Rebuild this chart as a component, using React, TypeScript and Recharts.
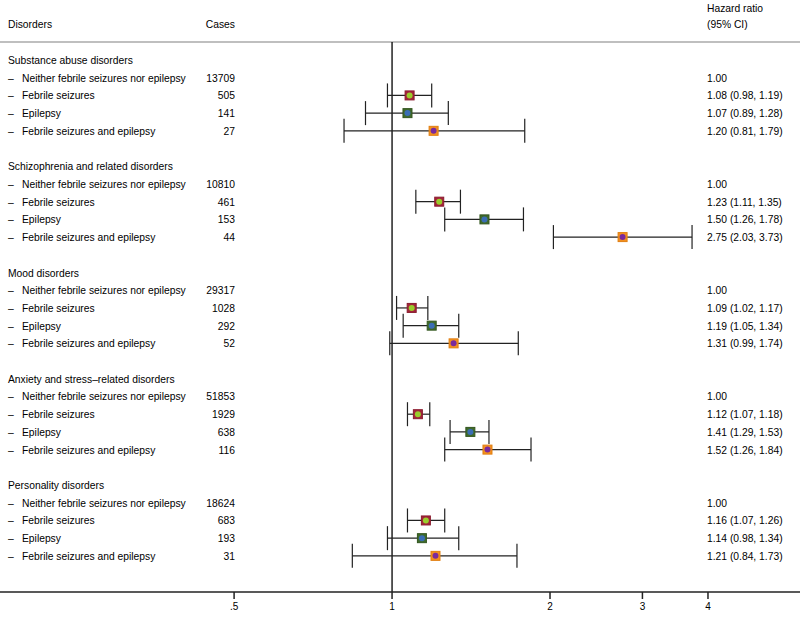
import {
  ErrorBar,
  ReferenceLine,
  Scatter,
  ScatterChart,
  XAxis,
  YAxis,
} from "recharts";

const groups = [
  "Substance abuse disorders",
  "Schizophrenia and related disorders",
  "Mood disorders",
  "Anxiety and stress\u2013related disorders",
  "Personality disorders",
];

const exposures = [
  "Neither febrile seizures nor epilepsy",
  "Febrile seizures",
  "Epilepsy",
  "Febrile seizures and epilepsy",
];

// per group, per exposure
const cases = [
  [13709, 505, 141, 27],
  [10810, 461, 153, 44],
  [29317, 1028, 292, 52],
  [51853, 1929, 638, 116],
  [18624, 683, 193, 31],
];

const hr = [
  [1.0, 1.08, 1.07, 1.2],
  [1.0, 1.23, 1.5, 2.75],
  [1.0, 1.09, 1.19, 1.31],
  [1.0, 1.12, 1.41, 1.52],
  [1.0, 1.16, 1.14, 1.21],
];

const lower = [
  [null, 0.98, 0.89, 0.81],
  [null, 1.11, 1.26, 2.03],
  [null, 1.02, 1.05, 0.99],
  [null, 1.07, 1.29, 1.26],
  [null, 1.07, 0.98, 0.84],
];

const upper = [
  [null, 1.19, 1.28, 1.79],
  [null, 1.35, 1.78, 3.73],
  [null, 1.17, 1.34, 1.74],
  [null, 1.18, 1.53, 1.84],
  [null, 1.26, 1.34, 1.73],
];

const xTicks = [0.5, 1, 2, 3, 4];

const markerStyles = [
  null,
  { square: "#a3243a", edge: "#8a1c2e", dot: "#9acd2c" },
  { square: "#3f6a2c", edge: "#33561f", dot: "#3a6db4" },
  { square: "#f3901f", edge: "#e07f12", dot: "#7a2a9c" },
];

type Row = {
  kind: "title" | "item";
  text: string;
  cases?: number;
  ci?: string;
};

const rows: Row[] = [];
const seriesData: { hr: number; row: number; err: number[] }[][] = [[], [], [], []];

groups.forEach((g, gi) => {
  rows.push({ kind: "title", text: g });
  exposures.forEach((e, ei) => {
    const h = hr[gi][ei];
    const lo = lower[gi][ei];
    const hi = upper[gi][ei];
    rows.push({
      kind: "item",
      text: e,
      cases: cases[gi][ei],
      ci:
        lo == null
          ? h.toFixed(2)
          : `${h.toFixed(2)} (${lo.toFixed(2)}, ${hi!.toFixed(2)})`,
    });
    if (lo != null && hi != null) {
      seriesData[ei].push({ hr: h, row: rows.length - 1, err: [h - lo, hi - h] });
    }
  });
  if (gi < groups.length - 1) rows.push({ kind: "title", text: "" });
});

const font = "'Liberation Sans', Arial, Helvetica, sans-serif";
const fontSize = 10.3;

function RowTick(props: any) {
  const { y, payload } = props;
  const r = rows[payload.value];
  if (!r || !r.text) return <g />;
  if (r.kind === "title") {
    return (
      <text x={8} y={y} dy={4} fontSize={fontSize} fontFamily={font} fill="#000">
        {r.text}
      </text>
    );
  }
  return (
    <g fontSize={fontSize} fontFamily={font} fill="#000">
      <text x={8} y={y} dy={4}>
        {"\u2013"}
      </text>
      <text x={22} y={y} dy={4}>
        {r.text}
      </text>
      <text x={235} y={y} dy={4} textAnchor="end">
        {r.cases}
      </text>
      <text x={707} y={y} dy={4}>
        {r.ci}
      </text>
    </g>
  );
}

function makeShape(ei: number) {
  const st = markerStyles[ei]!;
  return (p: any) => (
    <g>
      <rect
        x={p.cx - 4.5}
        y={p.cy - 4.5}
        width={9}
        height={9}
        fill={st.square}
        stroke={st.edge}
        strokeWidth={1}
      />
      <circle cx={p.cx} cy={p.cy} r={3} fill={st.dot} />
    </g>
  );
}

const headStyle = {
  position: "absolute" as const,
  fontFamily: font,
  fontSize: fontSize,
  color: "#000",
  lineHeight: "13px",
};

export default function App() {
  return (
    <div style={{ position: "absolute", left: 0, top: 0, width: 800, height: 618, background: "#fff" }}>
      <ScatterChart
        width={800}
        height={618}
        margin={{ top: 42, right: 0, bottom: 0, left: -1 }}
      >
        <XAxis
          type="number"
          dataKey="hr"
          scale="log"
          domain={[0.179, 5.99]}
          allowDataOverflow
          ticks={xTicks}
          tickFormatter={(v: number) => (v === 0.5 ? ".5" : String(v))}
          interval={0}
          axisLine={{ stroke: "#222", strokeWidth: 1.5 }}
          tickLine={{ stroke: "#222", strokeWidth: 1.5 }}
          tickSize={7}
          tickMargin={4}
          tick={{ fontSize: 10, fontFamily: font, fill: "#000" }}
          height={26}
        />
        <YAxis
          type="number"
          dataKey="row"
          domain={[-1.016, 30.04]}
          reversed
          allowDataOverflow
          ticks={rows.map((_, i) => i)}
          interval={0}
          width={1}
          axisLine={false}
          tickLine={false}
          tick={<RowTick />}
        />
        <ReferenceLine y={-1.016} stroke="#aaa" strokeWidth={1.5} ifOverflow="visible" />
        <ReferenceLine x={1} stroke="#000" strokeWidth={1.3} />
        {[1, 2, 3].map((ei) => (
          <Scatter
            key={ei}
            data={seriesData[ei]}
            shape={makeShape(ei)}
            isAnimationActive={false}
          >
            <ErrorBar
              dataKey="err"
              direction="x"
              width={12}
              stroke="#222"
              strokeWidth={1.2}
            />
          </Scatter>
        ))}
      </ScatterChart>
      <div style={{ ...headStyle, left: 8, top: 18 }}>Disorders</div>
      <div style={{ ...headStyle, left: 205, top: 18, width: 30, textAlign: "right" }}>Cases</div>
      <div style={{ ...headStyle, left: 707, top: 2 }}>Hazard ratio</div>
      <div style={{ ...headStyle, left: 707, top: 18 }}>(95% CI)</div>
    </div>
  );
}
